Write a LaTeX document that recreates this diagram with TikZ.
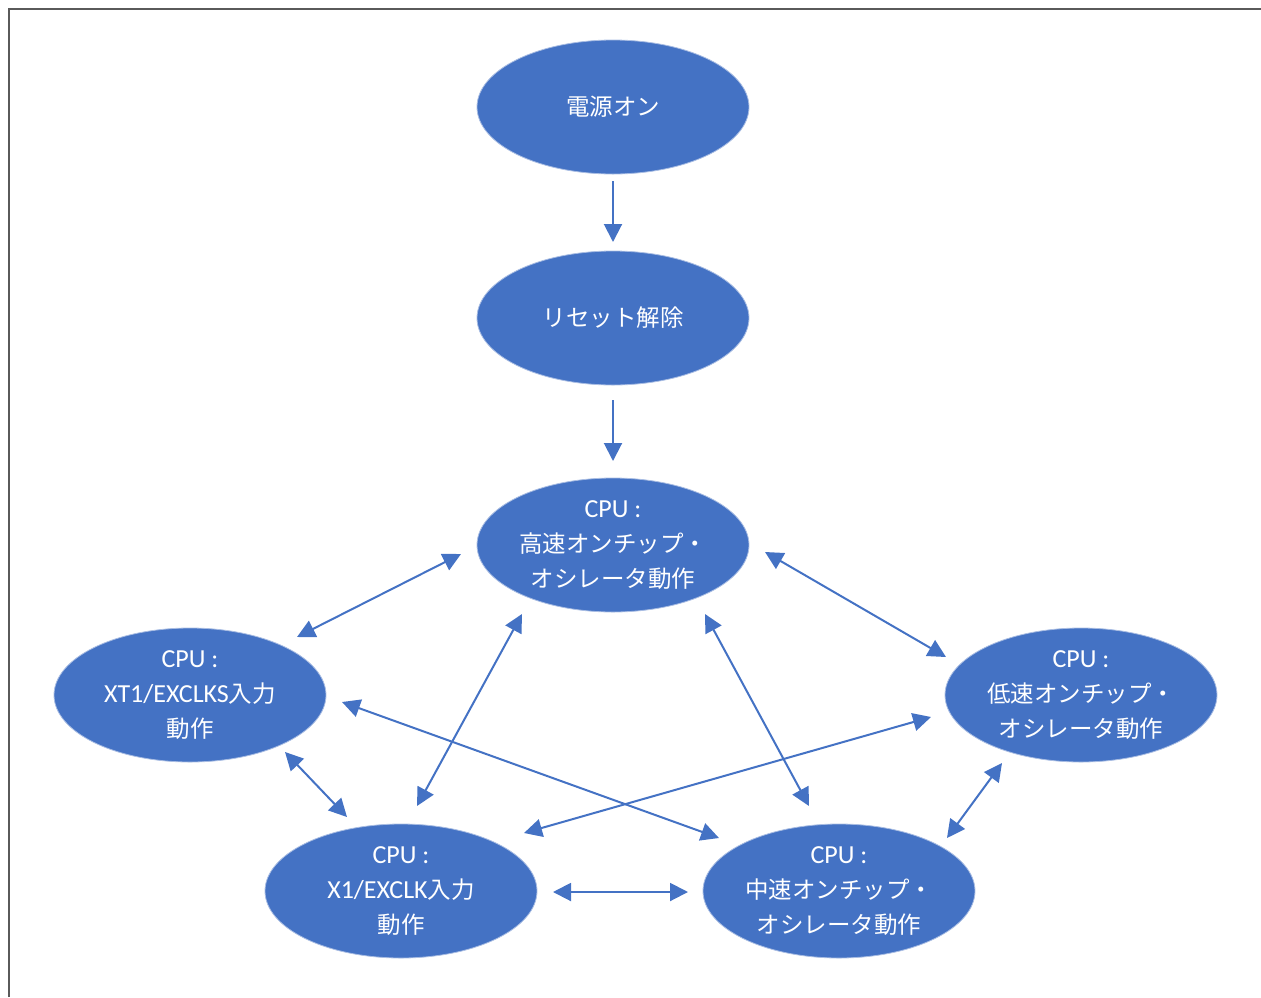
\documentclass[tikz,border=0pt]{standalone}
\usepackage{fontspec}
\setmainfont{Carlito}
\newfontfamily\cjkf{Noto Sans CJK JP}
\newcommand{\jp}[1]{{\cjkf\fontsize{23.5}{35}\selectfont #1}}
\usetikzlibrary{arrows.meta,shapes.geometric}
\definecolor{ofblue}{HTML}{4472C4}
\definecolor{rim}{HTML}{A9BDE3}
\definecolor{framegray}{HTML}{5A5A5A}
\begin{document}
\begin{tikzpicture}[x=1pt,y=-1pt,
  state/.style={ellipse, fill=ofblue, draw=rim, line width=0.8pt,
    minimum width=272pt, minimum height=134pt, inner sep=0pt,
    text=white, align=center, font=\fontsize{26}{35}\selectfont},
  arr/.style={draw=ofblue, line width=2pt, -{Triangle[length=18pt,width=18pt]}},
  darr/.style={draw=ofblue, line width=2pt, {Triangle[length=18pt,width=18pt]}-{Triangle[length=18pt,width=18pt]}}]
\useasboundingbox (0,0) rectangle (1261,997);
\draw[framegray, line width=1.5pt] (9,997) -- (9,9) -- (1262,9);

\node[state] (on) at (613,107) {\jp{電源オン}};
\node[state] (rst) at (613,318) {\jp{リセット解除}};
\node[state] (hs) at (613,545) {CPU :\\\jp{高速オンチップ・}\\\jp{オシレータ動作}};
\node[state] (xt) at (190,695) {CPU :\\XT1/EXCLKS\jp{入力}\\\jp{動作}};
\node[state] (ls) at (1081,695) {CPU :\\\jp{低速オンチップ・}\\\jp{オシレータ動作}};
\node[state] (x1) at (401,891) {CPU :\\X1/EXCLK\jp{入力}\\\jp{動作}};
\node[state] (ms) at (839,891) {CPU :\\\jp{中速オンチップ・}\\\jp{オシレータ動作}};

% arrow end points
\coordinate (a1s) at (613,181); \coordinate (a1e) at (613,242);
\coordinate (a2s) at (613,400); \coordinate (a2e) at (613,461);
\coordinate (hxA) at (461,554); \coordinate (hxB) at (297,637);
\coordinate (hlA) at (765,552); \coordinate (hlB) at (946,657);
\coordinate (h1A) at (522,614); \coordinate (h1B) at (417,806);
\coordinate (hmA) at (705,614); \coordinate (hmB) at (809,806);
\coordinate (xmA) at (342,702); \coordinate (xmB) at (719,838);
\coordinate (l1A) at (931,717); \coordinate (l1B) at (524,833);
\coordinate (x1A) at (285,752); \coordinate (x1B) at (347,817);
\coordinate (lmA) at (1002,763); \coordinate (lmB) at (947,838);
\coordinate (m1A) at (553,892); \coordinate (m1B) at (688,892);

\draw[arr] (a1s) -- (a1e);
\draw[arr] (a2s) -- (a2e);
\draw[darr] (hxA) -- (hxB);
\draw[darr] (hlA) -- (hlB);
\draw[darr] (h1A) -- (h1B);
\draw[darr] (hmA) -- (hmB);
\draw[darr] (xmA) -- (xmB);
\draw[darr] (l1A) -- (l1B);
\draw[darr] (x1A) -- (x1B);
\draw[darr] (lmA) -- (lmB);
\draw[darr] (m1A) -- (m1B);
\end{tikzpicture}
\end{document}
